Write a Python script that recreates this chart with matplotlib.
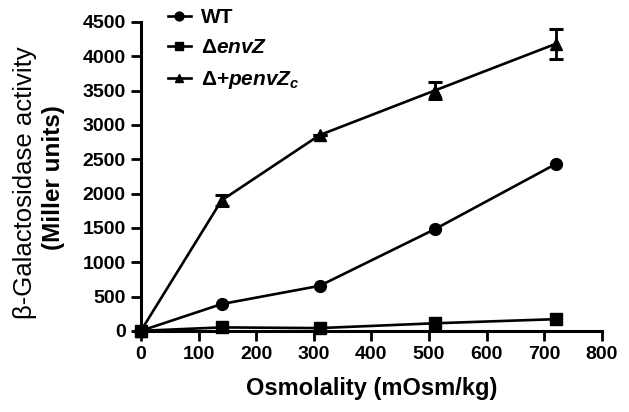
import matplotlib
matplotlib.use("Agg")
import matplotlib.pyplot as plt

plt.rcParams['font.family'] = ['Liberation Sans', 'DejaVu Sans']
plt.rcParams['mathtext.fontset'] = 'custom'
plt.rcParams['mathtext.it'] = 'Liberation Sans:italic:bold'
plt.rcParams['mathtext.rm'] = 'Liberation Sans:bold'

osm = [0, 140, 310, 510, 720]
wt = [0, 390, 655, 1480, 2430]
envz = [0, 50, 40, 110, 170]
comp = [0, 1900, 2850, 3500, 4180]
comp_err = [0, 80, 0, 120, 215]

fig = plt.figure(figsize=(6.29, 4.12), dpi=100)
ax = fig.add_axes([0.224, 0.197, 0.733, 0.75])

lw = 1.9
l1, = ax.plot(osm, wt, color='black', lw=lw, marker='o', ms=8.5, clip_on=False, zorder=3)
l2, = ax.plot(osm, envz, color='black', lw=lw, marker='s', ms=8, clip_on=False, zorder=3)
eb = ax.errorbar(osm, comp, yerr=comp_err, color='black', lw=lw, marker='^', ms=8.5,
                 capsize=5, capthick=2.2, elinewidth=2, clip_on=False, zorder=3)

ax.set_xlim(0, 800)
ax.set_ylim(0, 4500)
ax.set_xticks(range(0, 801, 100))
ax.set_yticks(range(0, 4501, 500))
for s in ['top', 'right']:
    ax.spines[s].set_visible(False)
for s in ['left', 'bottom']:
    ax.spines[s].set_linewidth(2.2)
ax.tick_params(width=2, length=7, labelsize=14, direction='out', pad=4)
for lab in ax.get_xticklabels() + ax.get_yticklabels():
    lab.set_fontweight('bold')

ax.set_xlabel('Osmolality (mOsm/kg)', fontsize=17, fontweight='bold', labelpad=10)
fig.text(0.04, 0.556, 'β-Galactosidase activity', rotation=90, fontsize=18.5,
         ha='center', va='center')
fig.text(0.085, 0.568, '(Miller units)', rotation=90, fontsize=17.5, fontweight='bold',
         ha='center', va='center')

labels = ['WT', r'Δ$\it{envZ}$', r'Δ+$\it{penvZ}_{\it{c}}$']
leg = fig.legend([l1, l2, eb[0]], labels, loc='upper left',
                 bbox_to_anchor=(168 / 629, 1 - 8 / 412), frameon=False,
                 handlelength=1.1, fontsize=15, labelspacing=0.55,
                 handletextpad=0.5, borderpad=0, borderaxespad=0, markerscale=0.75)
for t in leg.get_texts():
    t.set_fontweight('bold')

fig.savefig('out.png', dpi=100)
